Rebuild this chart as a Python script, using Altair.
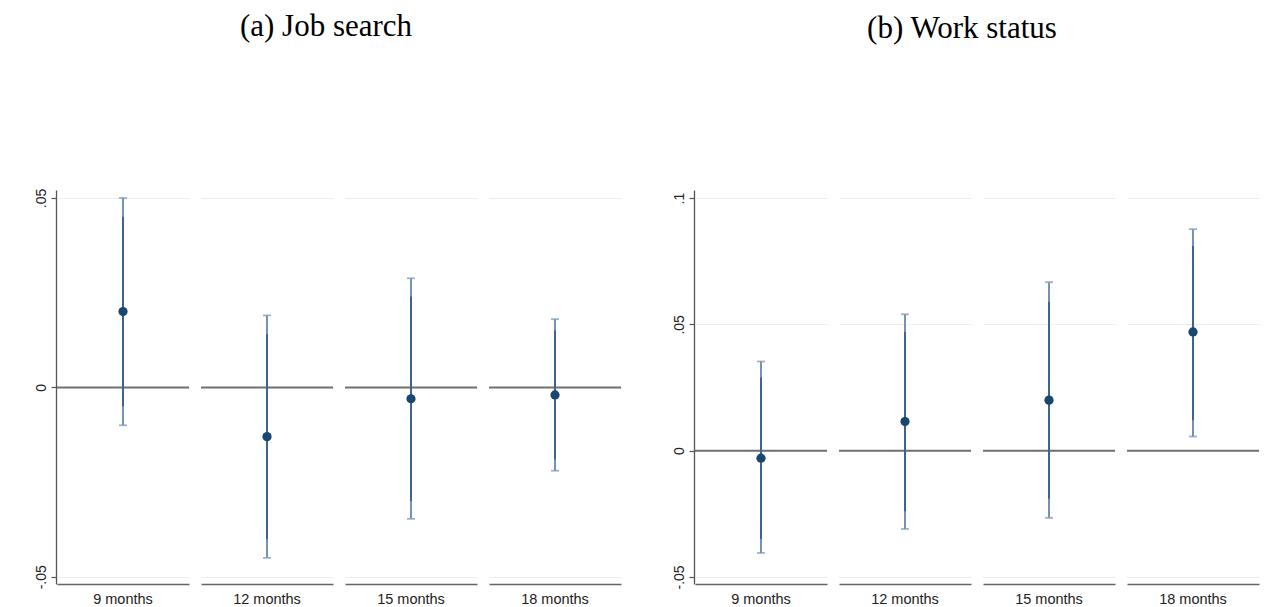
import altair as alt
import pandas as pd

months = ["9 months", "12 months", "15 months", "18 months"]

# (a) Job search
a_est = [0.020, -0.013, -0.003, -0.002]
a_lo95 = [-0.010, -0.045, -0.0347, -0.022]
a_hi95 = [0.050, 0.019, 0.0288, 0.018]
a_lo90 = [-0.005, -0.040, -0.030, -0.019]
a_hi90 = [0.045, 0.014, 0.024, 0.015]

# (b) Work status
b_est = [-0.003, 0.0115, 0.020, 0.047]
b_lo95 = [-0.0405, -0.031, -0.0266, 0.0056]
b_hi95 = [0.0353, 0.054, 0.0667, 0.0877]
b_lo90 = [-0.035, -0.024, -0.019, 0.012]
b_hi90 = [0.029, 0.047, 0.059, 0.081]

a_ticks = [-0.05, 0, 0.05]
b_ticks = [-0.05, 0, 0.05, 0.1]
a_domain = [-0.0519, 0.0521]
b_domain = [-0.0528, 0.1032]

C95 = "#7393b6"
C90 = "#3b6590"
CPT = "#1a476f"

LABEL_EXPR = ("datum.value == 0 ? '0' : (datum.value < 0 ? '-' : '') + "
              "replace(toString(abs(datum.value)), '0.', '.')")


def figure(est, lo95, hi95, lo90, hi90, ticks, domain, title, dx):
    df = pd.DataFrame({"month": months, "est": est, "lo95": lo95, "hi95": hi95,
                       "lo90": lo90, "hi90": hi90})
    yscale = alt.Scale(domain=domain, nice=False, zero=False)
    yaxis = alt.Axis(values=ticks, labelExpr=LABEL_EXPR, labelAngle=270,
                     labelAlign="center", labelBaseline="bottom", title=None,
                     grid=True, gridColor="#e9f0f1", gridWidth=1.2,
                     domainColor="#555555", domainWidth=1.3,
                     tickColor="#555555", tickSize=5, tickWidth=1.2,
                     labelFontSize=14, labelPadding=3)
    xenc = alt.X("month:N", sort=months,
                 axis=alt.Axis(title=None, ticks=False, labelAngle=0,
                               labelFontSize=14.5, labelPadding=8,
                               domainColor="#666666", domainWidth=1.6,
                               grid=False))
    base = alt.Chart()
    zero = base.mark_rule(color="#707070", strokeWidth=2).encode(
        y=alt.YDatum(0, scale=yscale, axis=yaxis))
    ci95 = base.mark_rule(color=C95, strokeWidth=2).encode(
        x=xenc, y=alt.Y("lo95:Q", scale=yscale, axis=yaxis), y2="hi95:Q")
    cap_lo = base.mark_tick(color=C95, size=8, thickness=1.8).encode(
        x=xenc, y=alt.Y("lo95:Q", scale=yscale, axis=yaxis))
    cap_hi = base.mark_tick(color=C95, size=8, thickness=1.8).encode(
        x=xenc, y=alt.Y("hi95:Q", scale=yscale, axis=yaxis))
    ci90 = base.mark_rule(color=C90, strokeWidth=2).encode(
        x=xenc, y=alt.Y("lo90:Q", scale=yscale, axis=yaxis), y2="hi90:Q")
    pt = base.mark_circle(color=CPT, size=85, opacity=1).encode(
        x=xenc, y=alt.Y("est:Q", scale=yscale, axis=yaxis))
    layered = alt.layer(zero, ci95, cap_lo, cap_hi, ci90, pt, data=df).properties(
        width=132, height=394)
    fac = layered.facet(
        column=alt.Column("month:N", sort=months,
                          header=alt.Header(labels=False, title=None, labelPadding=0)),
        spacing=10,
    ).resolve_scale(x="independent").properties(
        title=alt.TitleParams(title, fontSize=31, font="Liberation Serif",
                              fontWeight="normal", color="black",
                              anchor="middle", offset=145, dx=dx))
    return fac


fa = figure(a_est, a_lo95, a_hi95, a_lo90, a_hi90, a_ticks, a_domain, "(a) Job search", -2)
fb = figure(b_est, b_lo95, b_hi95, b_lo90, b_hi90, b_ticks, b_domain, "(b) Work status", -4)

chart = alt.hconcat(fa, fb, spacing=50).properties(
    padding={"left": 25, "top": 3, "right": 0, "bottom": 0}
).configure_view(stroke=None).configure_axis(
    labelFont="Liberation Sans", labelColor="#222222"
)

chart.save("out.html", embed_options={"renderer": "svg", "actions": False})
